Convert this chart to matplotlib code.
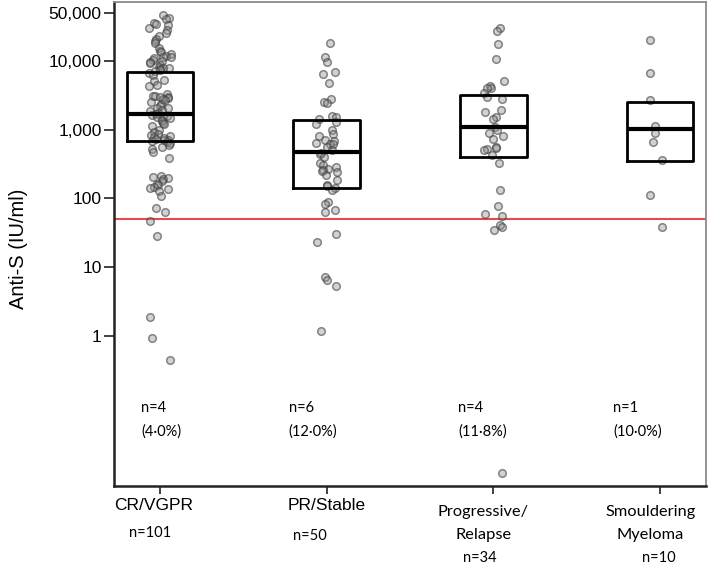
import numpy as np
import matplotlib
matplotlib.use("Agg")
import matplotlib.pyplot as plt
from matplotlib.transforms import blended_transform_factory

# ---------------- data ----------------
categories = ["CR/VGPR", "PR/Stable", "Progressive/\nRelapse", "Smouldering\nMyeloma"]
group_n = ["n=101", "n=50", "n=34", "n=10"]
below_n = ["n=4", "n=6", "n=4", "n=1"]
below_pct = ["(4·0%)", "(12·0%)", "(11·8%)", "(10·0%)"]

cr_vgpr = [46800, 42000, 40500, 36000, 35000, 33400, 30000, 28000, 25300, 23100,
           21000, 19800, 18100, 15500, 14100, 13600, 12500, 12000, 11500, 11300,
           11000, 10500, 10000, 9600, 9250, 8800, 8200, 8000, 7800, 7600, 7400,
           7200, 6760, 6300, 5280, 5170, 4470, 4300, 3300, 3100, 3050,
           3000, 2950, 2900, 2800, 2700, 2560, 2400, 2200, 2100, 2050,
           1940, 1850, 1770, 1700, 1650, 1600, 1550, 1500, 1400, 1320,
           1250, 1210, 1150, 980, 930, 880, 850, 800, 780, 760,
           740, 720, 705, 690, 670, 640, 600, 565, 520, 470,
           390, 215, 205, 200, 190, 180, 162, 155, 148, 142,
           138, 130, 107, 72, 63, 47, 28, 1.86, 0.93, 0.44]
pr_stable = [18100, 11550, 9770, 6910, 6470, 4730, 2800, 2560, 2450, 1600,
             1550, 1450, 1300, 1200, 1000, 870, 820, 700, 680, 650,
             630, 620, 560, 500, 462, 443, 400, 330, 310, 290,
             270, 260, 250, 240, 220, 187, 158, 150, 140, 132,
             89, 83, 67, 63, 30, 23, 7.1, 6.4, 5.3, 1.17]
progressive = [29900, 27600, 17500, 10600, 5120, 4330, 4100, 4000, 3390, 3000,
               2770, 1940, 1820, 1550, 1420, 1110, 1000, 905, 810, 725,
               565, 540, 520, 505, 430, 325, 132, 78, 60, 56,
               41, 39, 35, 0.01]
smouldering = [20200, 6620, 2700, 1140, 885, 660, 362, 112, 38]
groups = [cr_vgpr, pr_stable, progressive, smouldering]

# box statistics (q1, median, q3)
box_q1 = [692, 140, 405, 350]
box_med = [1675, 473, 1107, 1014]
box_q3 = [6980, 1384, 3170, 2556]

threshold = 50
ytick_vals = [1, 10, 100, 1000, 10000, 50000]
ytick_labels = ["1", "10", "100", "1,000", "10,000", "50,000"]

# ---------------- figure ----------------
W, H = 709, 571
fig = plt.figure(figsize=(W / 100, H / 100), dpi=100)
ax = fig.add_axes([114 / W, 1 - 486 / H, (706 - 114) / W, (486 - 2) / H])
ax.set_yscale("log")
ax.set_ylim(0.00652, 72300)
ax.set_xlim(-0.276, 3.275)

positions = np.arange(len(categories))
jit_rng = np.random.default_rng(7)
for pos, vals in zip(positions, groups):
    xs = pos + jit_rng.uniform(-0.065, 0.065, len(vals))
    ax.scatter(xs, vals, s=30, facecolor=(0.55, 0.55, 0.55, 0.4),
               edgecolor=(0.25, 0.25, 0.25, 0.6), linewidth=1.1, zorder=3)

stats = [dict(q1=a, med=m, q3=b, whislo=a, whishi=b, fliers=[])
         for a, m, b in zip(box_q1, box_med, box_q3)]
ax.bxp(stats, positions=positions, widths=0.4, showcaps=False, showfliers=False,
       boxprops=dict(color="black", linewidth=2.0),
       medianprops=dict(color="black", linewidth=3.0),
       whiskerprops=dict(linewidth=0), manage_ticks=False, zorder=4)

ax.axhline(threshold, color="#e8494a", linewidth=1.5, zorder=2)

ax.set_yticks(ytick_vals)
ax.set_yticklabels(ytick_labels, fontfamily="Liberation Sans", fontsize=12.5)
ax.yaxis.set_minor_locator(matplotlib.ticker.NullLocator())
ax.tick_params(axis="y", length=7, width=1.3, pad=2, color="#333333")
ax.set_xticks(positions)
ax.set_xticklabels([""] * len(positions))
ax.tick_params(axis="x", length=6, width=1.3, color="#333333")

ax.set_ylabel("Anti-S (IU/ml)", fontfamily="Liberation Sans", fontsize=14.5)
ax.yaxis.set_label_coords(-0.146, 0.49)

for side in ["left", "bottom"]:
    ax.spines[side].set_linewidth(1.8)
    ax.spines[side].set_color("#222222")
for side in ["top", "right"]:
    ax.spines[side].set_linewidth(1.3)
    ax.spines[side].set_color("#8a8a8a")

tr = blended_transform_factory(ax.transData, ax.transAxes)

# seronegative counts inside the plot
pct_offsets = [-0.114, -0.228, -0.212, -0.282]
for pos, off, n, p in zip(positions, pct_offsets, below_n, below_pct):
    ax.text(pos + off, 0.161, n, transform=tr, ha="left", va="center",
            fontfamily="Lato", fontsize=10.5)
    ax.text(pos + off, 0.112, p, transform=tr, ha="left", va="center",
            fontfamily="Lato", fontsize=10.5)

# category labels below the axis
ax.text(positions[0] - 0.04, -0.041, categories[0], transform=tr, ha="center",
        va="center", fontfamily="Liberation Sans", fontsize=12.5)
ax.text(positions[1], -0.041, categories[1], transform=tr, ha="center",
        va="center", fontfamily="Liberation Sans", fontsize=12.5)
for pos in positions[2:]:
    l1, l2 = categories[pos].split("\n")
    ax.text(pos - 0.06, -0.054, l1, transform=tr, ha="center", va="center",
            fontfamily="Lato", fontsize=11.8)
    ax.text(pos - 0.06, -0.101, l2, transform=tr, ha="center", va="center",
            fontfamily="Lato", fontsize=11.8)

n_y = [-0.097, -0.103, -0.149, -0.149]
n_dx = [-0.06, -0.1, -0.08, -0.01]
for pos, ny, dx, txt in zip(positions, n_y, n_dx, group_n):
    ax.text(pos + dx, ny, txt, transform=tr, ha="center", va="center",
            fontfamily="Lato", fontsize=10.5)

fig.savefig("out.png", dpi=100)
